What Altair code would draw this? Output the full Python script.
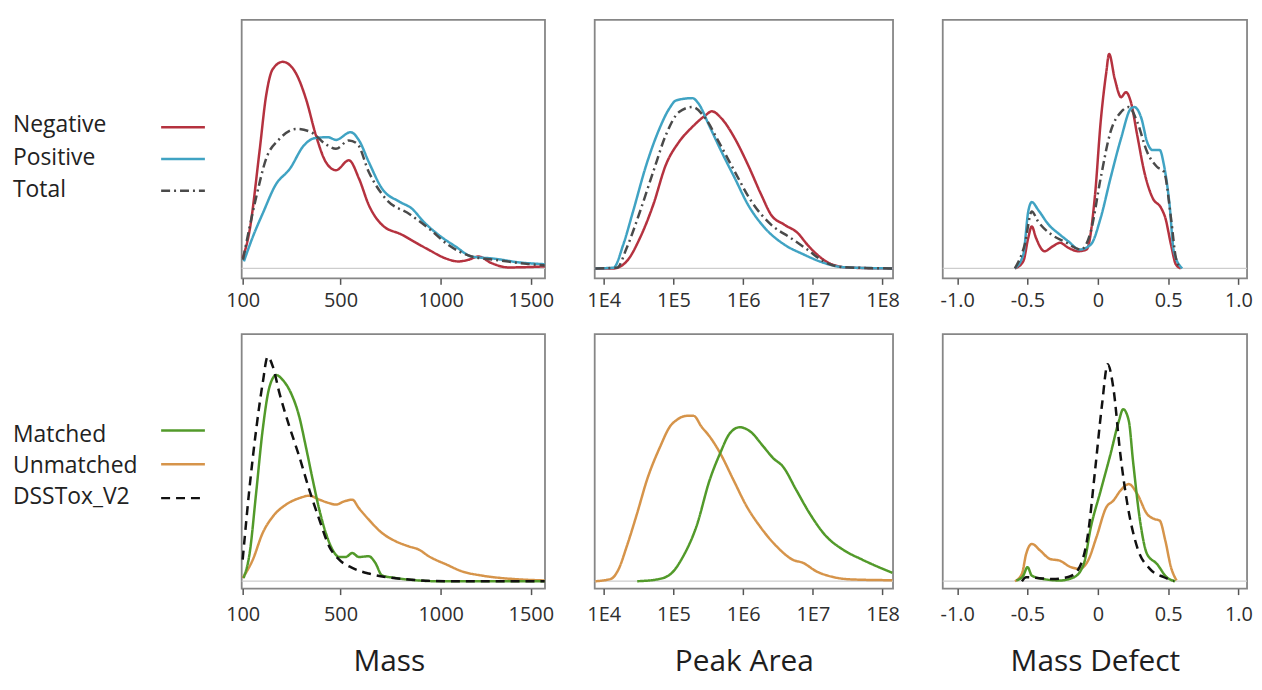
import altair as alt
import pandas as pd

SERIES = ["Negative", "Positive", "Total", "Matched", "Unmatched", "DSSTox_V2"]
COLORS = ["#b5323f", "#40a3c3", "#4a4a4a", "#529a2a", "#d6944a", "#111111"]
DASHES = [[1, 0], [1, 0], [9, 4, 2, 4], [1, 0], [1, 0], [9, 6]]
WIDTHS = [2.5, 2.5, 2.2, 2.5, 2.5, 3.0]

# ---------------- top row : Mass ----------------
mass_neg_x = [100, 123, 159, 184, 209, 249, 297, 346, 389, 433, 479, 539, 587, 634, 699, 800, 860, 937, 1024, 1096, 1150, 1204, 1278, 1371, 1580]
mass_neg_y = [4.1, 14.8, 46.8, 69.5, 80.1, 83.1, 79.5, 68.1, 53.5, 42.8, 39.5, 43.5, 36.1, 25.5, 17.5, 13.5, 10.8, 7.5, 4.1, 2.8, 3.5, 4.8, 2.1, 0.4, 0.8]
mass_pos_x = [104, 133, 174, 220, 278, 337, 384, 443, 479, 547, 587, 634, 699, 787, 849, 910, 989, 1080, 1167, 1295, 1425, 1580]
mass_pos_y = [2.8, 12.1, 22.8, 33.5, 40.1, 49.5, 52.4, 52.8, 51.7, 54.8, 51.5, 42.8, 32.1, 26.8, 24.1, 18.8, 13.5, 8.8, 4.8, 3.9, 2.5, 1.7]
mass_tot_x = [101, 146, 184, 236, 305, 368, 430, 479, 539, 579, 634, 716, 840, 937, 1040, 1167, 1295, 1443, 1580]
mass_tot_y = [3.5, 28.1, 44.1, 52.1, 56.1, 54.8, 50.1, 48.1, 51.5, 50.1, 38.8, 28.1, 21.7, 16.1, 9.5, 4.8, 3.5, 2.1, 1.2]

# ---------------- top row : Peak Area (log10) ----------------
pa_pos_x = [3.88, 4.14, 4.28, 4.42, 4.61, 4.80, 4.94, 5.04, 5.27, 5.36, 5.51, 5.69, 5.88, 6.07, 6.31, 6.59, 6.87, 7.15, 7.44, 8.14]
pa_pos_y = [0, 0.3, 9.6, 22.9, 41.6, 56.3, 64.3, 67.6, 68.5, 66.3, 57.6, 46.9, 36.3, 25.6, 16.3, 9.6, 5.6, 2.3, 0.5, 0]
pa_neg_x = [3.88, 4.14, 4.33, 4.52, 4.71, 4.89, 5.08, 5.27, 5.46, 5.55, 5.69, 5.88, 6.07, 6.26, 6.40, 6.59, 6.78, 6.92, 7.06, 7.25, 7.53, 8.14]
pa_neg_y = [0, 0, 2.9, 12.3, 25.6, 41.6, 50.9, 56.9, 61.6, 63.2, 60.3, 52.3, 41.6, 29.6, 21.6, 17.6, 14.3, 9.6, 5.6, 1.9, 0.3, 0]
pa_tot_x = [3.88, 4.19, 4.33, 4.52, 4.71, 4.89, 5.08, 5.27, 5.46, 5.65, 5.88, 6.12, 6.40, 6.68, 6.92, 7.15, 7.44, 8.14]
pa_tot_y = [0, 0.3, 8.3, 22.9, 38.9, 53.6, 62.9, 64.9, 60.3, 50.9, 38.9, 26.9, 17.6, 12.3, 7.6, 2.9, 0.5, 0]

# ---------------- top row : Mass Defect ----------------
md_neg_x = [-0.59, -0.53, -0.495, -0.47, -0.44, -0.38, -0.32, -0.27, -0.21, -0.14, -0.08, -0.02, 0.02, 0.06, 0.08, 0.12, 0.165, 0.20, 0.235, 0.28, 0.33, 0.39, 0.45, 0.48, 0.52, 0.555, 0.59]
md_neg_y = [0, 2.9, 12.3, 16.9, 12.3, 6.9, 8.9, 10.3, 8.3, 6.9, 7.6, 29.6, 58.9, 78.9, 86.3, 76.3, 68.9, 70.9, 66.9, 53.6, 38.9, 28.3, 24.3, 20.3, 9.6, 1.6, 0]
md_pos_x = [-0.59, -0.53, -0.495, -0.47, -0.425, -0.35, -0.27, -0.21, -0.13, -0.05, 0.02, 0.09, 0.165, 0.235, 0.26, 0.31, 0.35, 0.39, 0.44, 0.47, 0.51, 0.54, 0.60]
md_pos_y = [0, 5.6, 22.9, 26.7, 23.6, 17.6, 13.6, 10.9, 7.6, 9.6, 20.3, 36.3, 52.3, 64.3, 64.9, 60.3, 50.9, 47.6, 47.6, 41.6, 25.6, 6.9, 0]
md_tot_x = [-0.59, -0.52, -0.47, -0.425, -0.33, -0.24, -0.12, -0.05, 0.02, 0.09, 0.165, 0.22, 0.28, 0.35, 0.42, 0.47, 0.52, 0.555, 0.59]
md_tot_y = [0, 9.6, 22.9, 18.9, 13.6, 10.9, 7.6, 14.9, 36.3, 54.9, 62.9, 64.9, 58.9, 46.9, 40.9, 38.9, 20.3, 4.3, 0]

# ---------------- bottom row : Mass ----------------
mass_mat_x = [103, 124, 147, 171, 197, 223, 249, 283, 317, 345, 375, 404, 433, 463, 494, 524, 555, 586, 634, 666, 699, 766, 867, 972, 1580]
mass_mat_y = [1.3, 11.4, 35.7, 61.2, 78.7, 83.4, 81.4, 76.0, 66.6, 54.5, 41.0, 28.9, 19.5, 12.8, 9.8, 9.8, 11.4, 9.8, 10.1, 7.4, 2.3, 1.3, 0.4, 0, 0]
mass_dss_x = [100, 124, 147, 171, 190, 210, 236, 276, 317, 360, 404, 448, 494, 555, 634, 716, 833, 1025, 1580]
mass_dss_y = [8.7, 38.4, 61.2, 80.1, 90.8, 86.8, 76.0, 62.6, 50.5, 37.0, 24.9, 14.1, 8.7, 5.4, 3.1, 1.7, 0.7, 0, 0]
mass_unm_x = [100, 135, 171, 210, 262, 317, 360, 404, 448, 479, 517, 555, 586, 634, 699, 766, 833, 885, 937, 1032, 1114, 1222, 1330, 1444, 1580]
mass_unm_y = [1.3, 8.7, 19.5, 26.2, 31.0, 33.6, 34.6, 33.0, 31.6, 31.0, 32.3, 33.0, 29.6, 24.9, 19.5, 16.2, 14.1, 12.8, 10.1, 6.7, 4.0, 2.3, 1.3, 0.7, 0.3]

# ---------------- bottom row : Peak Area (log10) ----------------
pa_unm_x = [3.88, 4.10, 4.21, 4.33, 4.48, 4.62, 4.81, 4.95, 5.05, 5.19, 5.29, 5.40, 5.52, 5.67, 5.86, 6.05, 6.24, 6.48, 6.71, 6.86, 7.05, 7.29, 7.57, 8.14]
pa_unm_y = [0, 0.9, 4.7, 14.1, 27.6, 41.0, 54.5, 62.6, 65.3, 66.9, 66.9, 62.6, 58.5, 51.8, 41.0, 30.3, 22.2, 14.1, 8.7, 7.4, 4.0, 1.7, 0.7, 0.4]
pa_mat_x = [4.48, 4.76, 4.95, 5.14, 5.33, 5.52, 5.67, 5.81, 5.95, 6.10, 6.29, 6.43, 6.57, 6.76, 6.95, 7.19, 7.43, 7.71, 8.14]
pa_mat_y = [0, 0.7, 2.7, 10.1, 22.2, 41.0, 51.8, 59.9, 62.3, 60.6, 54.5, 49.8, 46.4, 37.0, 27.6, 18.2, 12.8, 8.7, 3.4]

# ---------------- bottom row : Mass Defect ----------------
md_dss_x = [-0.54, -0.51, -0.43, -0.32, -0.20, -0.13, -0.07, -0.02, 0.03, 0.07, 0.11, 0.16, 0.21, 0.28, 0.37, 0.47, 0.54]
md_dss_y = [0, 1.6, 1.3, 0.9, 1.9, 5.7, 19.1, 44.7, 71.6, 87.8, 78.3, 51.4, 31.2, 13.7, 5.0, 1.6, 0]
md_mat_x = [-0.58, -0.53, -0.50, -0.47, -0.39, -0.27, -0.17, -0.10, -0.05, 0.02, 0.09, 0.15, 0.18, 0.22, 0.25, 0.30, 0.35, 0.42, 0.49, 0.55]
md_mat_y = [0.3, 2.3, 5.7, 2.3, 0.9, 0.3, 1.6, 7.0, 21.8, 36.6, 51.4, 64.9, 69.6, 64.9, 48.7, 24.5, 11.0, 7.0, 1.6, 0]
md_unm_x = [-0.59, -0.54, -0.51, -0.47, -0.41, -0.34, -0.27, -0.20, -0.13, -0.07, -0.01, 0.06, 0.11, 0.16, 0.22, 0.28, 0.35, 0.40, 0.44, 0.48, 0.52, 0.56]
md_unm_y = [0, 3.0, 11.0, 15.1, 12.4, 9.0, 8.3, 5.9, 5.0, 8.3, 17.8, 29.9, 32.6, 36.6, 39.3, 35.3, 27.2, 25.2, 24.5, 16.4, 5.7, 0.3]

TOP_LEGEND = ["Negative", "Positive", "Total"]
BOTTOM_LEGEND = ["Matched", "Unmatched", "DSSTox_V2"]
COLUMN_TITLES = ["Mass", "Peak Area", "Mass Defect"]
MASS_TICKS = [100, 500, 1000, 1500]
PA_TICKS = [4, 5, 6, 7, 8]
MD_TICKS = [-1.0, -0.5, 0.0, 0.5, 1.0]

rows = []


def add(panel, series, xs, ys):
    for i, (x, y) in enumerate(zip(xs, ys)):
        rows.append({"panel": panel, "series": series, "x": x, "y": y, "i": i})


add("t_mass", "Negative", mass_neg_x, mass_neg_y)
add("t_mass", "Positive", mass_pos_x, mass_pos_y)
add("t_mass", "Total", mass_tot_x, mass_tot_y)
add("t_pa", "Negative", pa_neg_x, pa_neg_y)
add("t_pa", "Positive", pa_pos_x, pa_pos_y)
add("t_pa", "Total", pa_tot_x, pa_tot_y)
add("t_md", "Negative", md_neg_x, md_neg_y)
add("t_md", "Positive", md_pos_x, md_pos_y)
add("t_md", "Total", md_tot_x, md_tot_y)
add("b_mass", "Unmatched", mass_unm_x, mass_unm_y)
add("b_mass", "Matched", mass_mat_x, mass_mat_y)
add("b_mass", "DSSTox_V2", mass_dss_x, mass_dss_y)
add("b_pa", "Unmatched", pa_unm_x, pa_unm_y)
add("b_pa", "Matched", pa_mat_x, pa_mat_y)
add("b_md", "Unmatched", md_unm_x, md_unm_y)
add("b_md", "Matched", md_mat_x, md_mat_y)
add("b_md", "DSSTox_V2", md_dss_x, md_dss_y)
df = pd.DataFrame(rows)

color_enc = alt.Color("series:N", scale=alt.Scale(domain=SERIES, range=COLORS), legend=None)
dash_enc = alt.StrokeDash("series:N", scale=alt.Scale(domain=SERIES, range=DASHES), legend=None)
width_enc = alt.StrokeWidth("series:N", scale=alt.Scale(domain=SERIES, range=WIDTHS), legend=None)

FONT = "Open Sans"
W = [305, 300, 306]
H_TOP, H_BOT = 260, 256
FRAME = alt.ViewBackground(stroke="#868686", strokeWidth=1.8, fill="white")

x_scales = [
    alt.Scale(type="pow", exponent=0.8, domain=[96.7, 1582], nice=False, zero=False),
    alt.Scale(type="linear", domain=[3.87, 8.15], nice=False, zero=False),
    alt.Scale(type="linear", domain=[-1.103, 1.061], nice=False, zero=False),
]
tick_values = [MASS_TICKS, PA_TICKS, MD_TICKS]
label_exprs = [
    "format(datum.value, 'd')",
    "'1E' + datum.value",
    "datum.value == 0 ? '0' : (datum.value < 0 ? '-' : '') + format(abs(datum.value), '.1f')",
]
title_x = [148, 150, 153]


def panel(pid, col, bottom):
    d = df[df.panel == pid]
    ydom = [-3, 100] if bottom else [-4, 100]
    ys = alt.Scale(domain=ydom, nice=False, zero=False)
    axis_kw = dict(
        values=tick_values[col], labelExpr=label_exprs[col], domain=False, grid=False,
        ticks=True, tickSize=6, tickColor="#555555", tickWidth=1.5,
        labelFont=FONT, labelFontSize=20, labelColor="#2e2e2e",
        labelPadding=10 if bottom else 6, labelFlush=False, labelOverlap=False,
    )
    if bottom:
        axis_kw.update(
            title=COLUMN_TITLES[col], titleFont=FONT, titleFontSize=30, titleFontWeight="normal",
            titleColor="#1e1e1e", titleBaseline="alphabetic", titleAlign="center",
            titleX=title_x[col], titleY=82,
        )
    else:
        axis_kw.update(title=None)
    zero = alt.Chart(pd.DataFrame({"y": [0]})).mark_rule(color="#cdcdcd", strokeWidth=1.3).encode(
        y=alt.Y("y:Q", scale=ys, axis=None)
    )
    lines = alt.Chart(d).mark_line(interpolate="monotone").encode(
        x=alt.X("x:Q", scale=x_scales[col], axis=alt.Axis(**axis_kw)),
        y=alt.Y("y:Q", scale=ys, axis=None),
        color=color_enc,
        strokeDash=dash_enc,
        strokeWidth=width_enc,
        detail="series:N",
        order="i:Q",
    )
    return alt.layer(zero, lines).properties(
        width=W[col], height=H_BOT if bottom else H_TOP, view=FRAME
    )


def legend(names, text_range, line_range, h):
    d = pd.DataFrame({"series": names})
    ty = alt.Y("series:N", sort=names, scale=alt.Scale(type="point", range=text_range, padding=0), axis=None)
    ly = alt.Y("series:N", sort=names, scale=alt.Scale(type="point", range=line_range, padding=0), axis=None)
    text = alt.Chart(d).mark_text(
        align="left", baseline="alphabetic", font=FONT, fontSize=23, color="#222222"
    ).encode(x=alt.value(4), y=ty, text="series:N")
    rule = alt.Chart(d).mark_rule().encode(
        x=alt.value(153), x2=alt.value(197), y=ly,
        color=color_enc, strokeDash=dash_enc, strokeWidth=width_enc,
    )
    return alt.layer(text, rule).resolve_scale(y="independent").properties(
        width=184, height=h, view=alt.ViewBackground(stroke="transparent")
    )


cells = [
    legend(TOP_LEGEND, [113, 178], [108, 172], H_TOP),
    panel("t_mass", 0, False),
    panel("t_pa", 1, False),
    panel("t_md", 2, False),
    legend(BOTTOM_LEGEND, [109, 171], [97, 165], H_BOT),
    panel("b_mass", 0, True),
    panel("b_pa", 1, True),
    panel("b_md", 2, True),
]

chart = alt.concat(
    *cells, columns=4, spacing={"row": 56, "column": 50}, bounds="flush",
    padding={"left": 0, "top": 9, "right": 0, "bottom": 0},
).configure_view(stroke="#868686", strokeWidth=1.8).configure(background="white")

chart.save("out.html", embed_options={"renderer": "svg", "actions": False})
